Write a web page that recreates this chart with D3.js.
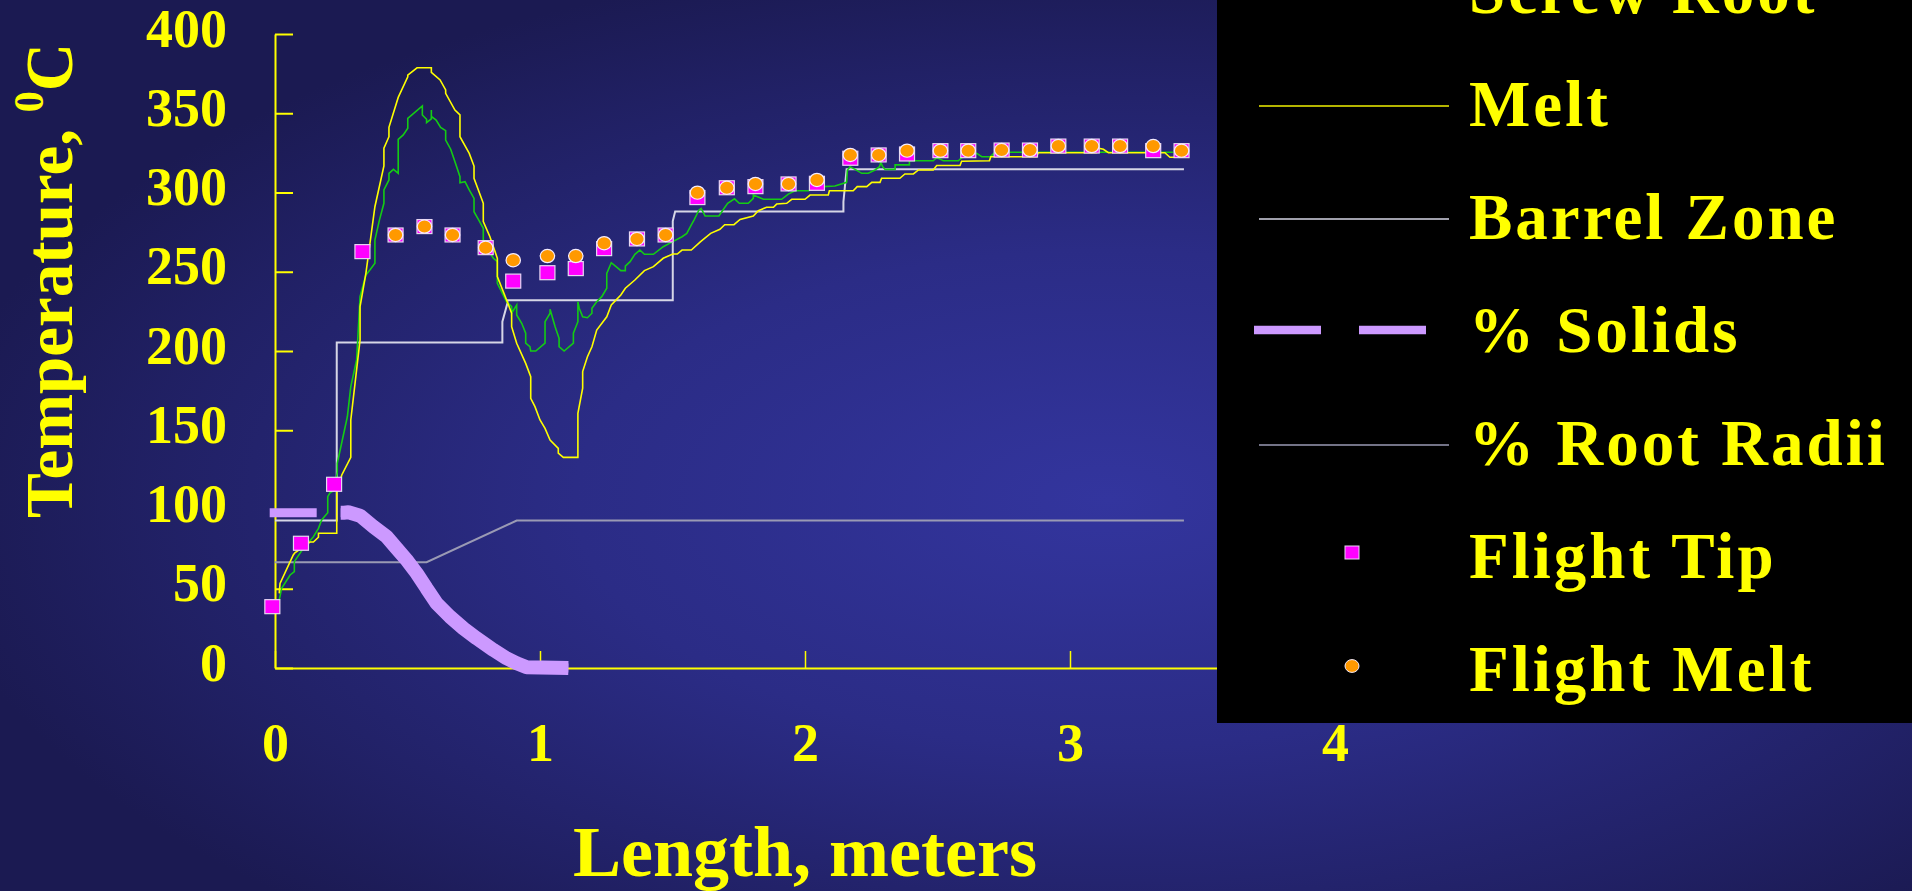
<!DOCTYPE html>
<html>
<head>
<meta charset="utf-8">
<script src="https://cdn.jsdelivr.net/npm/d3@7"></script>
<style>
  html, body { margin: 0; padding: 0; background: #1b1a50; overflow: hidden; }
  svg { display: block; }
</style>
</head>
<body>
<svg id="chart" width="1912" height="891"></svg>
<script>
// ---- Axis ticks ----
const xTickValues = [0, 1, 2, 3, 4];
const yTickValues = [0, 50, 100, 150, 200, 250, 300, 350, 400];

// ---- Legend labels (top to bottom) ----
const legendNames = ["Screw Root", "Melt", "Barrel Zone", "% Solids", "% Root Radii", "Flight Tip", "Flight Melt"];

// ---- Screw root temperature (length m, °C) ----
const screwRootX = [0.016,0.025,0.057,0.073,0.073,0.107,0.132,0.145,0.164,0.176,0.199,0.199,0.208,0.226,0.235,0.235,0.273,0.286,0.308,0.321,0.343,0.358,0.377,0.377,0.394,0.411,0.411,0.430,0.430,0.447,0.465,0.465,0.484,0.501,0.501,0.556,0.556,0.572,0.572,0.590,0.590,0.590,0.608,0.625,0.644,0.644,0.663,0.681,0.698,0.698,0.717,0.733,0.751,0.751,0.769,0.786,0.786,0.804,0.824,0.839,0.839,0.874,0.893,0.893,0.912,0.912,0.931,0.946,0.946,0.962,0.965,0.984,1.019,1.019,1.038,1.038,1.057,1.072,1.072,1.091,1.126,1.126,1.143,1.143,1.148,1.161,1.179,1.196,1.196,1.214,1.233,1.252,1.252,1.269,1.287,1.305,1.322,1.322,1.340,1.358,1.377,1.394,1.428,1.465,1.501,1.536,1.554,1.571,1.581,1.600,1.608,1.623,1.675,1.708,1.734,1.752,1.786,1.805,1.805,1.843,1.912,1.937,1.962,2.013,2.069,2.113,2.157,2.160,2.170,2.189,2.214,2.239,2.264,2.281,2.286,2.293,2.302,2.340,2.340,2.394,2.394,2.484,2.497,2.522,2.579,2.591,2.648,2.667,2.700,2.717,3.390];
const screwRootY = [42.9,50.3,58.7,60.8,67.1,75.5,80.3,82.8,88.1,93.4,98.0,108.1,110.6,112.3,123.8,129.1,158.5,177.5,194.3,234.3,248.0,251.1,255.3,270.0,282.6,293.2,301.6,307.9,312.1,314.6,312.1,333.5,336.3,340.5,346.8,354.6,348.9,346.2,344.1,346.4,352.0,348.0,345.7,341.1,339.0,333.1,327.3,318.4,310.0,306.2,306.8,301.6,296.3,287.9,282.6,277.4,270.0,263.7,258.5,256.4,242.7,231.1,228.0,223.8,229.0,222.7,217.5,211.2,204.9,202.7,200.0,200.0,204.9,218.5,223.8,226.3,215.3,208.0,202.7,200.0,204.9,211.2,218.5,231.1,227.0,221.6,221.0,223.8,227.0,231.1,234.3,239.6,249.0,255.7,253.2,250.7,250.7,253.6,256.4,261.0,263.7,261.0,261.0,265.8,269.0,272.1,274.2,279.5,282.6,289.0,290.0,285.2,285.2,293.2,296.0,293.2,293.2,296.3,298.4,295.7,295.7,299.0,301.1,301.1,303.7,304.1,306.4,314.0,316.3,314.6,312.1,312.1,314.2,316.3,318.9,316.3,314.6,314.6,317.4,317.4,320.0,320.0,322.0,320.0,320.0,322.0,324.7,322.6,322.6,325.4,325.4];

// ---- Melt temperature ----
const meltX = [0.016,0.019,0.069,0.075,0.132,0.145,0.164,0.164,0.233,0.233,0.252,0.286,0.286,0.321,0.321,0.343,0.377,0.411,0.411,0.430,0.430,0.465,0.501,0.501,0.536,0.590,0.590,0.623,0.644,0.644,0.679,0.698,0.698,0.733,0.751,0.751,0.786,0.786,0.811,0.839,0.839,0.874,0.893,0.893,0.912,0.946,0.965,0.965,0.981,1.000,1.019,1.038,1.069,1.069,1.088,1.143,1.143,1.161,1.161,1.179,1.196,1.214,1.252,1.269,1.305,1.322,1.358,1.394,1.428,1.465,1.501,1.518,1.536,1.571,1.606,1.644,1.679,1.697,1.732,1.755,1.805,1.824,1.855,1.881,1.893,1.931,1.950,2.000,2.019,2.088,2.092,2.182,2.197,2.233,2.252,2.283,2.289,2.358,2.377,2.409,2.428,2.484,2.497,2.585,2.591,2.696,2.701,2.874,2.880,3.100,3.107,3.126,3.145,3.358,3.377,3.415];
const meltY = [47.1,53.4,71.3,72.7,79.5,79.5,82.5,85.0,85.0,111.2,121.8,132.9,156.5,207.0,228.0,249.0,291.0,316.7,327.9,335.2,341.1,360.0,373.0,374.1,378.7,378.7,375.8,371.0,364.7,362.6,352.0,349.0,335.2,324.7,316.7,309.0,293.2,281.6,272.1,258.5,246.9,232.2,223.8,215.3,204.9,192.2,183.8,170.1,164.9,156.5,151.2,143.8,138.6,135.5,132.9,132.9,160.7,176.5,187.0,196.4,202.7,213.2,221.6,229.0,235.3,239.6,244.8,250.7,253.2,258.5,261.2,261.2,263.7,263.7,269.0,274.2,276.8,279.7,279.7,283.0,285.2,288.5,290.7,290.7,292.7,293.2,295.7,295.7,298.4,298.4,301.1,301.1,303.7,303.7,306.4,306.4,309.0,309.0,311.7,311.7,314.2,314.2,317.0,317.0,319.7,320.0,322.6,322.6,325.1,325.1,327.9,327.3,325.1,325.1,322.2,322.2];

// ---- Barrel zone set temperatures ----
const barrelX = [0.000,0.233,0.233,0.858,0.858,0.877,0.877,1.501,1.501,1.510,2.145,2.145,2.157,3.430];
const barrelY = [93.0,93.0,205.3,205.3,218.5,230.1,232.0,232.0,282.0,288.0,288.0,294.2,314.6,314.6];

// ---- % Solids ----
const solidsX = [-0.020,0.260,0.277,0.321,0.371,0.421,0.459,0.497,0.535,0.572,0.610,0.660,0.711,0.761,0.824,0.874,0.912,0.950,1.107];
const solidsY = [98.0,98.0,98.2,96.1,89.2,82.9,75.5,68.1,59.7,50.3,40.8,32.4,25.0,18.7,11.4,6.1,3.0,0.5,0.0];

// ---- % Root radii ----
const rootRadiiX = [0.000,0.572,0.912,3.430];
const rootRadiiY = [66.7,66.7,93.0,93.0];

// ---- Flight tip temperature ----
const flightTipX = [-0.010,0.098,0.223,0.330,0.455,0.564,0.670,0.795,0.899,1.028,1.135,1.242,1.366,1.474,1.594,1.705,1.813,1.938,2.045,2.171,2.278,2.385,2.511,2.616,2.742,2.849,2.956,3.082,3.189,3.314,3.421];
const flightTipY = [38.7,78.7,115.9,262.7,273.2,278.5,273.2,265.2,244.1,249.4,252.0,264.6,270.7,273.2,296.8,303.0,303.7,305.4,305.8,321.6,323.7,324.3,326.4,326.4,326.8,326.8,329.3,329.3,329.3,326.4,326.4];

// ---- Flight melt temperature ----
const flightMeltX = [0.455,0.564,0.670,0.795,0.899,1.028,1.135,1.242,1.366,1.474,1.594,1.705,1.813,1.938,2.045,2.171,2.278,2.385,2.511,2.616,2.742,2.849,2.956,3.082,3.189,3.314,3.421];
const flightMeltY = [273.2,278.5,273.2,265.2,257.3,259.9,259.9,268.0,270.7,273.2,299.9,303.0,305.4,305.4,307.9,323.7,323.7,326.4,326.4,326.4,326.8,326.8,329.3,329.3,329.3,329.3,326.4];

// ---- Colours ----
const YELLOW = "#ffff00";
const GREEN = "#14cc14";
const BARREL = "#d6d6e6";
const ROOT = "#9a9ab4";
const SOLIDS = "#cc99ff";
const MAGENTA = "#ff00ff";
const ORANGE = "#ff9900";
const FONT = "'Liberation Serif', 'Times New Roman', serif";

const svg = d3.select("#chart");
const W = 1912, H = 891;

// Background: soft navy radial glow
const defs = svg.append("defs");
const grad = defs.append("radialGradient")
  .attr("id", "bg").attr("cx", 0.58).attr("cy", 0.56).attr("r", 0.62)
  .attr("fx", 0.58).attr("fy", 0.56);
grad.append("stop").attr("offset", "0%").attr("stop-color", "#33359e");
grad.append("stop").attr("offset", "45%").attr("stop-color", "#2b2c86");
grad.append("stop").attr("offset", "100%").attr("stop-color", "#1b1a52");
svg.append("rect").attr("width", W).attr("height", H).attr("fill", "url(#bg)");

// Scales
const x = d3.scaleLinear().domain([0, 4]).range([275, 1335]);
const y = d3.scaleLinear().domain([0, 400]).range([668, 34]);

// Axes
const yAxis = d3.axisLeft(y).tickValues(yTickValues).tickSizeInner(-18).tickSizeOuter(0).tickPadding(48).tickFormat(d3.format("d"));
const gy = svg.append("g").attr("transform", `translate(${x(0)},0)`).call(yAxis);
gy.select(".domain").attr("stroke", YELLOW).attr("stroke-width", 2);
gy.selectAll(".tick line").attr("stroke", YELLOW).attr("stroke-width", 2);
gy.selectAll(".tick text")
  .attr("fill", YELLOW).attr("font-family", FONT).attr("font-weight", "bold")
  .attr("font-size", 54).attr("dy", 12);

const xAxis = d3.axisBottom(x).tickValues(xTickValues).tickSizeInner(-17).tickSizeOuter(0).tickPadding(93).tickFormat(d3.format("d"));
const gx = svg.append("g").attr("transform", `translate(0,${y(0)})`).call(xAxis);
gx.select(".domain").attr("stroke", YELLOW).attr("stroke-width", 2);
gx.selectAll(".tick line").attr("stroke", YELLOW).attr("stroke-width", 1.5);
gx.selectAll(".tick text")
  .attr("fill", YELLOW).attr("font-family", FONT).attr("font-weight", "bold")
  .attr("font-size", 54).attr("dy", 0);

// Axis titles
svg.append("text")
  .attr("x", x(2)).attr("y", 876)
  .attr("text-anchor", "middle")
  .attr("fill", YELLOW).attr("font-family", FONT).attr("font-weight", "bold")
  .attr("font-size", 72)
  .text("Length, meters");

const yTitle = svg.append("text")
  .attr("transform", "translate(72,518) rotate(-90)")
  .attr("fill", YELLOW).attr("font-family", FONT).attr("font-weight", "bold")
  .attr("font-size", 67);
yTitle.append("tspan").text("Temperature, ");
yTitle.append("tspan").attr("font-size", 42).attr("dy", -29).text("0");
yTitle.append("tspan").attr("dy", 29).text("C");

// Series helpers
const zipXY = (xs, ys) => xs.map((v, i) => [v, ys[i]]);
const line = d3.line().x(d => x(d[0])).y(d => y(d[1]));
const plot = svg.append("g");

plot.append("path").datum(zipXY(barrelX, barrelY))
  .attr("d", line).attr("fill", "none").attr("stroke", BARREL).attr("stroke-width", 2);
plot.append("path").datum(zipXY(rootRadiiX, rootRadiiY))
  .attr("d", line).attr("fill", "none").attr("stroke", ROOT).attr("stroke-width", 2);
plot.append("path").datum(zipXY(screwRootX, screwRootY))
  .attr("d", line).attr("fill", "none").attr("stroke", GREEN).attr("stroke-width", 1.6);
plot.append("path").datum(zipXY(meltX, meltY))
  .attr("d", line).attr("fill", "none").attr("stroke", YELLOW).attr("stroke-width", 1.6);

// % Solids: long dash, short gap, then the heavy falling trace
const solidsData = zipXY(solidsX, solidsY);
plot.append("path").datum(solidsData)
  .attr("d", line).attr("fill", "none").attr("stroke", SOLIDS).attr("stroke-width", 9)
  .attr("stroke-dasharray", "47,24,2000");
plot.append("path").datum(solidsData)
  .attr("d", line).attr("fill", "none").attr("stroke", SOLIDS).attr("stroke-width", 14)
  .attr("stroke-dasharray", "0,71,2000").attr("stroke-linejoin", "bevel");

// Flight tip squares
plot.selectAll("rect.tip").data(zipXY(flightTipX, flightTipY)).join("rect")
  .attr("class", "tip")
  .attr("x", d => x(d[0]) - 7.5).attr("y", d => y(d[1]) - 7)
  .attr("width", 15).attr("height", 14)
  .attr("fill", MAGENTA).attr("stroke", "#e6d6f2").attr("stroke-width", 1.2);

// Flight melt circles
plot.selectAll("ellipse.melt").data(zipXY(flightMeltX, flightMeltY)).join("ellipse")
  .attr("class", "melt")
  .attr("cx", d => x(d[0])).attr("cy", d => y(d[1]))
  .attr("rx", 7.2).attr("ry", 6.6)
  .attr("fill", ORANGE).attr("stroke", "#f4ecff").attr("stroke-width", 1.2);

// Legend
const legend = svg.append("g");
legend.append("rect").attr("x", 1217).attr("y", 0).attr("width", W - 1217).attr("height", 723).attr("fill", "#000");

const legendStyles = [
  { type: "line", color: GREEN, width: 1.6 },
  { type: "line", color: "#b4b400", width: 2 },
  { type: "line", color: BARREL, width: 1.6 },
  { type: "dash", color: SOLIDS, width: 8.5 },
  { type: "line", color: ROOT, width: 1.6 },
  { type: "square" },
  { type: "circle" }
];

legendNames.forEach((name, i) => {
  const base = 13 + 113 * i;
  const st = legendStyles[i];
  if (st.type === "line") {
    legend.append("line").attr("x1", 1259).attr("x2", 1449).attr("y1", base - 20).attr("y2", base - 20)
      .attr("stroke", st.color).attr("stroke-width", st.width);
  } else if (st.type === "dash") {
    legend.append("line").attr("x1", 1254).attr("x2", 1426).attr("y1", base - 22).attr("y2", base - 22)
      .attr("stroke", st.color).attr("stroke-width", st.width).attr("stroke-dasharray", "67,38");
  } else if (st.type === "square") {
    legend.append("rect").attr("x", 1345).attr("y", base - 32).attr("width", 14).attr("height", 13)
      .attr("fill", MAGENTA).attr("stroke", "#e6d6f2").attr("stroke-width", 1);
  } else {
    legend.append("ellipse").attr("cx", 1352).attr("cy", base - 25).attr("rx", 7).attr("ry", 6.4)
      .attr("fill", ORANGE).attr("stroke", "#f4ecff").attr("stroke-width", 1);
  }
  legend.append("text")
    .attr("x", 1469).attr("y", base)
    .attr("fill", YELLOW).attr("font-family", FONT).attr("font-weight", "bold")
    .attr("font-size", 65).attr("letter-spacing", 3)
    .text(name);
});
</script>
</body>
</html>
